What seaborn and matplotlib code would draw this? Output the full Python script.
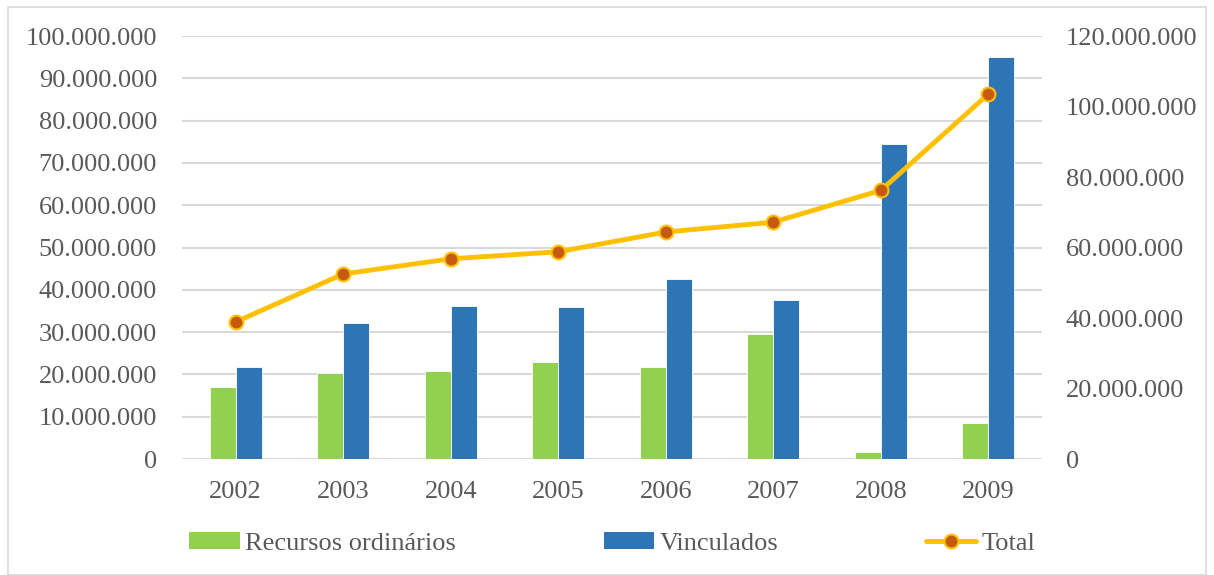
import pandas as pd
import matplotlib.pyplot as plt
import seaborn as sns
from matplotlib.ticker import FuncFormatter, MultipleLocator
from matplotlib.patches import Patch, Rectangle
from matplotlib.lines import Line2D

# Values (R$)
anos = ["2002", "2003", "2004", "2005", "2006", "2007", "2008", "2009"]
recursos_ordinarios = [17.0e6, 20.3e6, 20.8e6, 22.9e6, 21.7e6, 29.5e6, 1.6e6, 8.5e6]
vinculados = [21.7e6, 32.1e6, 36.2e6, 36.0e6, 42.6e6, 37.6e6, 74.5e6, 95.0e6]
total = [38.9e6, 52.5e6, 56.8e6, 58.8e6, 64.4e6, 67.2e6, 76.2e6, 103.5e6]

series = ["Recursos ordinários", "Vinculados"]
cores = {"Recursos ordinários": "#92D050", "Vinculados": "#2E75B6"}

df = pd.DataFrame({
    "ano": anos * 2,
    "serie": [series[0]] * len(anos) + [series[1]] * len(anos),
    "valor": recursos_ordinarios + vinculados,
})

sns.set_style("white")
plt.rcParams["font.family"] = ["Liberation Serif", "DejaVu Serif"]
texto = "#595959"

fig = plt.figure(figsize=(12.14, 5.75), dpi=100)
ax = fig.add_axes([182 / 1214, 0.2017, 860 / 1214, 0.7356])

sns.barplot(data=df, x="ano", y="valor", hue="serie", hue_order=series,
            palette=cores, width=0.48, saturation=1, ax=ax,
            edgecolor="white", linewidth=0.6, legend=False)

def milhar(v, pos):
    return f"{v:,.0f}".replace(",", ".")

ax.set_ylim(0, 100e6)
ax.yaxis.set_major_locator(MultipleLocator(10e6))
ax.yaxis.set_major_formatter(FuncFormatter(milhar))
ax.set_xlim(-0.5, len(anos) - 0.5)
ax.set_xlabel("")
ax.set_ylabel("")
ax.grid(axis="y", color="#D9D9D9", linewidth=1.5)
ax.set_axisbelow(True)
for s in ax.spines.values():
    s.set_visible(False)
ax.tick_params(axis="both", length=0, labelsize=19, colors=texto)
ax.tick_params(axis="y", pad=18)
ax.tick_params(axis="x", pad=16)

ax2 = ax.twinx()
sns.pointplot(x=anos, y=total, ax=ax2, color="#FFC000", markers="o",
              markersize=10, markerfacecolor="#C55A11",
              markeredgecolor="#FFC000", markeredgewidth=1.5, linewidth=3.5)
ax2.set_ylim(0, 120e6)
ax2.yaxis.set_major_locator(MultipleLocator(20e6))
ax2.yaxis.set_major_formatter(FuncFormatter(milhar))
ax2.set_xlim(-0.5, len(anos) - 0.5)
ax2.set_ylabel("")
for s in ax2.spines.values():
    s.set_visible(False)
ax2.tick_params(axis="y", length=0, labelsize=19, colors=texto, pad=17)

handles = [
    Patch(facecolor=cores[series[0]], edgecolor="none"),
    Patch(facecolor=cores[series[1]], edgecolor="none"),
    Line2D([0], [0], color="#FFC000", linewidth=3.5, marker="o", markersize=10,
           markerfacecolor="#C55A11", markeredgecolor="#FFC000", markeredgewidth=1.5),
]
fig.legend(handles, series + ["Total"], loc="center",
           bbox_to_anchor=(0.156, 0.025, 0.697, 0.06), mode="expand", ncol=3,
           frameon=False, fontsize=19, labelcolor=texto,
           handlelength=1.9, handleheight=0.6, handletextpad=0.2,
           borderaxespad=0, borderpad=0)

fig.patches.append(Rectangle((8 / 1214, 0), 1198 / 1214, 568 / 575,
                             transform=fig.transFigure, fill=False,
                             edgecolor="#D9D9D9", linewidth=1.2))

fig.savefig("out.png", dpi=100)
